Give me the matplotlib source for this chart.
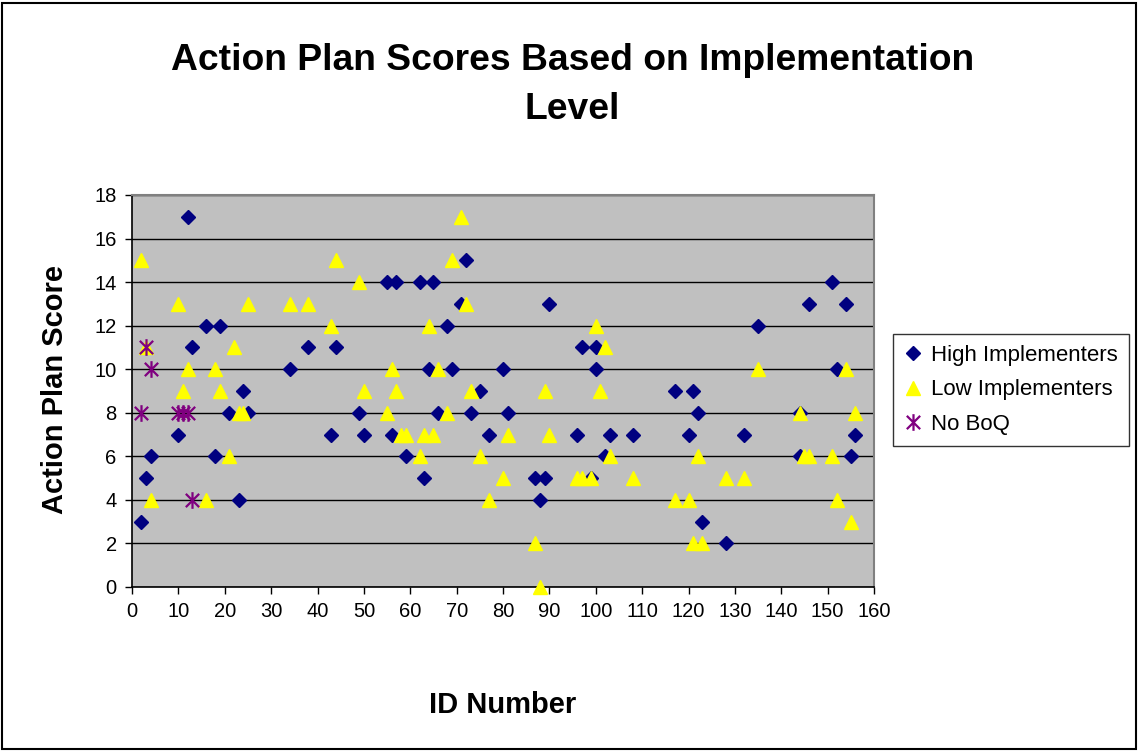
import matplotlib
matplotlib.use("Agg")
import matplotlib.pyplot as plt
from matplotlib.path import Path
from matplotlib.patches import Rectangle

plt.rcParams['font.family'] = ['Liberation Sans', 'DejaVu Sans']

title = "Action Plan Scores Based on Implementation\nLevel"
x_label = "ID Number"
y_label = "Action Plan Score"

high_ids = [2, 3, 4, 10, 12, 13, 16, 18, 19, 21, 23, 24, 25, 34, 38, 43, 44, 49, 50,
            55, 56, 57, 59, 62, 63, 64, 65, 66, 68, 69, 71, 72, 73, 75, 77, 80, 81,
            87, 88, 89, 90, 96, 97, 99, 100, 100, 102, 103, 108, 117, 120, 121, 122,
            123, 128, 132, 135, 144, 144, 146, 151, 152, 154, 155, 156]
high_scores = [3, 5, 6, 7, 17, 11, 12, 6, 12, 8, 4, 9, 8, 10, 11, 7, 11, 8, 7,
               14, 7, 14, 6, 14, 5, 10, 14, 8, 12, 10, 13, 15, 8, 9, 7, 10, 8,
               5, 4, 5, 13, 7, 11, 5, 10, 11, 6, 7, 7, 9, 7, 9, 8,
               3, 2, 7, 12, 8, 6, 13, 14, 10, 13, 6, 7]

low_ids = [2, 3, 4, 10, 11, 12, 16, 18, 19, 21, 22, 23, 24, 25, 34, 38, 43, 44, 49,
           50, 55, 56, 57, 58, 59, 62, 63, 64, 65, 66, 68, 69, 71, 72, 73, 75, 77,
           80, 81, 87, 88, 89, 90, 96, 97, 99, 100, 101, 102, 103, 108, 117, 120,
           121, 122, 123, 128, 132, 135, 144, 145, 146, 151, 152, 154, 155, 156]
low_scores = [15, 11, 4, 13, 9, 10, 4, 10, 9, 6, 11, 8, 8, 13, 13, 13, 12, 15, 14,
              9, 8, 10, 9, 7, 7, 6, 7, 12, 7, 10, 8, 15, 17, 13, 9, 6, 4,
              5, 7, 2, 0, 9, 7, 5, 5, 5, 12, 9, 11, 6, 5, 4, 4,
              2, 6, 2, 5, 5, 10, 8, 6, 6, 6, 4, 10, 3, 8]

noboq_ids = [2, 3, 4, 10, 11, 12, 13]
noboq_scores = [8, 11, 10, 8, 8, 8, 4]

series_names = ["High Implementers", "Low Implementers", "No BoQ"]
x_ticks = list(range(0, 161, 10))
y_ticks = list(range(0, 19, 2))

# Excel-style star: vertical line plus an X
star = Path([(0, -1), (0, 1), (-0.8, -0.8), (0.8, 0.8), (-0.8, 0.8), (0.8, -0.8)],
            [Path.MOVETO, Path.LINETO, Path.MOVETO, Path.LINETO, Path.MOVETO, Path.LINETO])

W, H = 1139, 751
fig = plt.figure(figsize=(W / 100, H / 100), dpi=100)
fig.patch.set_facecolor('white')
fig.patches.append(Rectangle((2 / W, 2 / H), (W - 5) / W, (H - 5) / H, transform=fig.transFigure,
                             fill=False, edgecolor='black', linewidth=1.5))

ax = fig.add_axes([132 / W, 1 - 587 / H, 742 / W, 392 / H])
ax.set_facecolor('#C0C0C0')
ax.set_xlim(0, 160)
ax.set_ylim(0, 18)
ax.set_xticks(x_ticks)
ax.set_yticks(y_ticks)
ax.yaxis.grid(True, color='black', linewidth=1.0)
ax.set_axisbelow(True)
ax.tick_params(direction='out', length=5, width=1, labelsize=14.5, colors='black', pad=6)
for s in ['top', 'right']:
    ax.spines[s].set_color('#808080')
    ax.spines[s].set_linewidth(1.5)
for s in ['left', 'bottom']:
    ax.spines[s].set_color('black')
    ax.spines[s].set_linewidth(1.2)

h1, = ax.plot(high_ids, high_scores, linestyle='none', marker='D', markersize=7.5,
              color='#000080', markeredgecolor='#000080', label=series_names[0], zorder=3)
h2, = ax.plot(low_ids, low_scores, linestyle='none', marker='^', markersize=10,
              color='#FFFF00', markeredgecolor='#FFFF00', label=series_names[1], zorder=4,
              clip_on=False)
h3, = ax.plot(noboq_ids, noboq_scores, linestyle='none', marker=star, markersize=12,
              color='#800080', markeredgecolor='#800080', markeredgewidth=1.6,
              label=series_names[2], zorder=5)

fig.text(0.5027, 1 - 85 / H, title, ha='center', va='center', fontsize=26.8,
         fontweight='bold', linespacing=1.5)
fig.text(503 / W, 1 - 705 / H, x_label, ha='center', va='center', fontsize=21, fontweight='bold')
fig.text(55 / W, 1 - 390 / H, y_label, ha='center', va='center', fontsize=21,
         fontweight='bold', rotation=90)

leg = fig.legend(handles=[h1, h2, h3], loc='center left',
                 bbox_to_anchor=(893 / W, 1 - 390 / H), fontsize=16, frameon=True,
                 fancybox=False, edgecolor='black', handlelength=0.8, handletextpad=0.4,
                 borderpad=0.5, labelspacing=0.6, borderaxespad=0)
leg.get_frame().set_linewidth(1.0)

fig.savefig('out.png', dpi=100)
